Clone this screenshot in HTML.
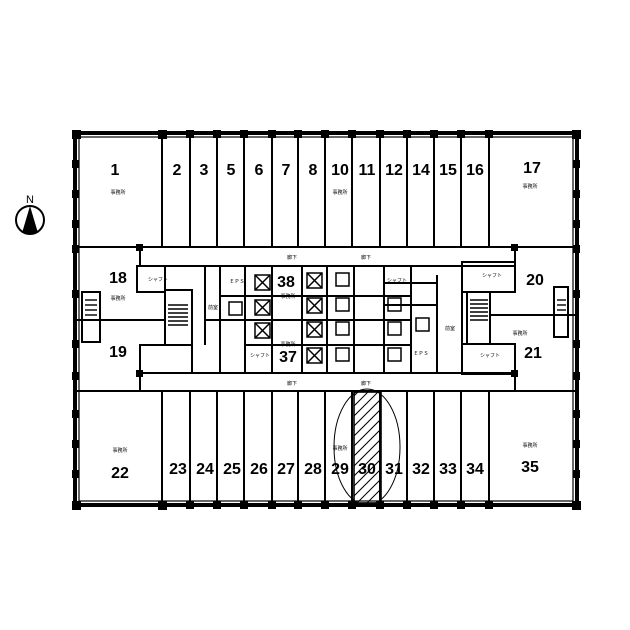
<!DOCTYPE html>
<html><head><style>
html,body{margin:0;padding:0;background:#fff;}
svg{display:block;}
text{font-family:"Liberation Sans",sans-serif;font-weight:bold;fill:#000;}
.n{font-size:16px;text-anchor:middle;}
.s{font-size:5px;text-anchor:middle;font-weight:normal;font-family:"Liberation Sans","Noto Sans CJK JP",sans-serif;}
</style></head><body>
<svg width="630" height="630" viewBox="0 0 630 630" xmlns="http://www.w3.org/2000/svg">
<rect width="630" height="630" fill="#fff"/>
<circle cx="30" cy="220" r="14" fill="none" stroke="#000" stroke-width="2"/>
<polygon points="30,206 22,233 38,233" fill="#000"/>
<text x="30" y="203" style="font-size:11px;font-weight:normal;text-anchor:middle">N</text>
<rect x="75" y="133" width="502" height="372" fill="none" stroke="#000" stroke-width="4"/>
<rect x="79" y="137" width="494" height="364" fill="none" stroke="#000" stroke-width="1.2"/>
<g fill="#000">
<g id="cols">
<rect x="72" y="130" width="9" height="9"/><rect x="158" y="130" width="9" height="9"/><rect x="186" y="130" width="8" height="8"/><rect x="213" y="130" width="8" height="8"/><rect x="240" y="130" width="8" height="8"/><rect x="268" y="130" width="8" height="8"/><rect x="294" y="130" width="8" height="8"/><rect x="321" y="130" width="8" height="8"/><rect x="348" y="130" width="8" height="8"/><rect x="376" y="130" width="8" height="8"/><rect x="403" y="130" width="8" height="8"/><rect x="430" y="130" width="8" height="8"/><rect x="457" y="130" width="8" height="8"/><rect x="485" y="130" width="8" height="8"/><rect x="572" y="130" width="9" height="9"/>
</g>
<use href="#cols" y="371"/>
<rect x="72" y="160" width="7" height="8"/><rect x="72" y="190" width="7" height="8"/><rect x="72" y="220" width="7" height="8"/><rect x="72" y="245" width="7" height="8"/><rect x="72" y="290" width="7" height="8"/><rect x="72" y="340" width="7" height="8"/><rect x="72" y="372" width="7" height="8"/><rect x="72" y="410" width="7" height="8"/><rect x="72" y="440" width="7" height="8"/><rect x="72" y="470" width="7" height="8"/>
<rect x="573" y="160" width="7" height="8"/><rect x="573" y="190" width="7" height="8"/><rect x="573" y="220" width="7" height="8"/><rect x="573" y="245" width="7" height="8"/><rect x="573" y="290" width="7" height="8"/><rect x="573" y="340" width="7" height="8"/><rect x="573" y="372" width="7" height="8"/><rect x="573" y="410" width="7" height="8"/><rect x="573" y="440" width="7" height="8"/><rect x="573" y="470" width="7" height="8"/>
<rect x="136" y="244" width="7" height="7"/><rect x="511" y="244" width="7" height="7"/><rect x="136" y="370" width="7" height="7"/><rect x="511" y="370" width="7" height="7"/>
</g>
<g stroke="#000" stroke-width="2" fill="none">
<line x1="77" y1="247" x2="577" y2="247"/>
<line x1="162" y1="135" x2="162" y2="247"/><line x1="190" y1="135" x2="190" y2="247"/><line x1="217" y1="135" x2="217" y2="247"/><line x1="244" y1="135" x2="244" y2="247"/><line x1="272" y1="135" x2="272" y2="247"/><line x1="298" y1="135" x2="298" y2="247"/><line x1="325" y1="135" x2="325" y2="247"/><line x1="352" y1="135" x2="352" y2="247"/><line x1="380" y1="135" x2="380" y2="247"/><line x1="407" y1="135" x2="407" y2="247"/><line x1="434" y1="135" x2="434" y2="247"/><line x1="461" y1="135" x2="461" y2="247"/><line x1="489" y1="135" x2="489" y2="247"/>
<line x1="77" y1="391" x2="577" y2="391"/>
<line x1="162" y1="391" x2="162" y2="503"/><line x1="190" y1="391" x2="190" y2="503"/><line x1="217" y1="391" x2="217" y2="503"/><line x1="244" y1="391" x2="244" y2="503"/><line x1="272" y1="391" x2="272" y2="503"/><line x1="298" y1="391" x2="298" y2="503"/><line x1="325" y1="391" x2="325" y2="503"/><line x1="352" y1="391" x2="352" y2="503"/><line x1="380" y1="391" x2="380" y2="503"/><line x1="407" y1="391" x2="407" y2="503"/><line x1="434" y1="391" x2="434" y2="503"/><line x1="461" y1="391" x2="461" y2="503"/><line x1="489" y1="391" x2="489" y2="503"/>
<rect x="140" y="247" width="375" height="19"/>
<rect x="140" y="373" width="375" height="18"/>
<line x1="77" y1="320" x2="165" y2="320"/>
<rect x="137" y="266" width="28" height="26"/>
<rect x="165" y="290" width="27" height="55"/>
<rect x="140" y="345" width="52" height="28"/>
<rect x="82" y="292" width="18" height="50"/>
<line x1="490" y1="315" x2="575" y2="315"/>
<rect x="462" y="262" width="53" height="30"/>
<rect x="462" y="344" width="53" height="30"/>
<rect x="467" y="292" width="23" height="52"/>
<rect x="554" y="287" width="14" height="50"/>
<line x1="205" y1="266" x2="205" y2="345"/>
<line x1="220" y1="266" x2="220" y2="373"/>
<line x1="245" y1="266" x2="245" y2="373"/>
<line x1="272" y1="266" x2="272" y2="373"/>
<line x1="302" y1="266" x2="302" y2="373"/>
<line x1="327" y1="266" x2="327" y2="373"/>
<line x1="354" y1="266" x2="354" y2="373"/>
<line x1="384" y1="266" x2="384" y2="373"/>
<line x1="411" y1="266" x2="411" y2="373"/>
<line x1="437" y1="275" x2="437" y2="373"/>
<line x1="462" y1="266" x2="462" y2="373"/>
<line x1="220" y1="296" x2="411" y2="296"/>
<line x1="205" y1="320" x2="411" y2="320"/>
<line x1="245" y1="345" x2="411" y2="345"/>
<line x1="384" y1="283" x2="437" y2="283"/>
<line x1="384" y1="305" x2="437" y2="305"/>
<g stroke-width="1.5">
<rect x="255" y="275" width="15" height="15"/><path d="M255 275L270 290M270 275L255 290"/>
<rect x="255" y="300" width="15" height="15"/><path d="M255 300L270 315M270 300L255 315"/>
<rect x="255" y="323" width="15" height="15"/><path d="M255 323L270 338M270 323L255 338"/>
<rect x="307" y="273" width="15" height="15"/><path d="M307 273L322 288M322 273L307 288"/>
<rect x="307" y="298" width="15" height="15"/><path d="M307 298L322 313M322 298L307 313"/>
<rect x="307" y="322" width="15" height="15"/><path d="M307 322L322 337M322 322L307 337"/>
<rect x="307" y="348" width="15" height="15"/><path d="M307 348L322 363M322 348L307 363"/>
<rect x="336" y="273" width="13" height="13"/><rect x="336" y="298" width="13" height="13"/><rect x="336" y="322" width="13" height="13"/><rect x="336" y="348" width="13" height="13"/>
<rect x="388" y="298" width="13" height="13"/><rect x="388" y="322" width="13" height="13"/><rect x="388" y="348" width="13" height="13"/>
<rect x="416" y="318" width="13" height="13"/><rect x="229" y="302" width="13" height="13"/>
</g>
<ellipse cx="367" cy="447" rx="33" ry="58" stroke-width="1"/>
</g>
<g stroke="#000" stroke-width="1.4">
<line x1="168" y1="305" x2="188" y2="305"/><line x1="168" y1="309" x2="188" y2="309"/><line x1="168" y1="313" x2="188" y2="313"/><line x1="168" y1="317" x2="188" y2="317"/><line x1="168" y1="321" x2="188" y2="321"/><line x1="168" y1="325" x2="188" y2="325"/>
<line x1="470" y1="300" x2="488" y2="300"/><line x1="470" y1="304" x2="488" y2="304"/><line x1="470" y1="308" x2="488" y2="308"/><line x1="470" y1="312" x2="488" y2="312"/><line x1="470" y1="316" x2="488" y2="316"/><line x1="470" y1="320" x2="488" y2="320"/>
<line x1="85" y1="300" x2="97" y2="300"/><line x1="85" y1="305" x2="97" y2="305"/><line x1="85" y1="310" x2="97" y2="310"/><line x1="85" y1="315" x2="97" y2="315"/>
<line x1="557" y1="300" x2="566" y2="300"/><line x1="557" y1="305" x2="566" y2="305"/><line x1="557" y1="310" x2="566" y2="310"/><line x1="557" y1="315" x2="566" y2="315"/>
</g>
<defs><clipPath id="hc"><rect x="354" y="392" width="27" height="111"/></clipPath></defs>
<rect x="354" y="392" width="27" height="111" fill="none" stroke="#000" stroke-width="1.6"/>
<g clip-path="url(#hc)" stroke="#000" stroke-width="1">
<path d="M340 410L390 360M340 420L390 370M340 430L390 380M340 440L390 390M340 450L390 400M340 460L390 410M340 470L390 420M340 480L390 430M340 490L390 440M340 500L390 450M340 510L390 460M340 520L390 470M340 530L390 480M340 540L390 490M340 550L390 500M340 560L390 510M340 570L390 520"/>
</g>
<text class="n" x="115" y="175">1</text><text class="n" x="177" y="175">2</text><text class="n" x="204" y="175">3</text><text class="n" x="231" y="175">5</text><text class="n" x="259" y="175">6</text><text class="n" x="286" y="175">7</text><text class="n" x="313" y="175">8</text><text class="n" x="340" y="175">10</text><text class="n" x="367" y="175">11</text><text class="n" x="394" y="175">12</text><text class="n" x="421" y="175">14</text><text class="n" x="448" y="175">15</text><text class="n" x="475" y="175">16</text><text class="n" x="532" y="173">17</text>
<text class="n" x="118" y="283">18</text><text class="n" x="118" y="357">19</text><text class="n" x="535" y="285">20</text><text class="n" x="533" y="358">21</text>
<text class="n" x="286" y="287">38</text><text class="n" x="288" y="362">37</text>
<text class="n" x="120" y="478">22</text><text class="n" x="178" y="474">23</text><text class="n" x="205" y="474">24</text><text class="n" x="232" y="474">25</text><text class="n" x="259" y="474">26</text><text class="n" x="286" y="474">27</text><text class="n" x="313" y="474">28</text><text class="n" x="340" y="474">29</text><text class="n" x="367" y="474">30</text><text class="n" x="394" y="474">31</text><text class="n" x="421" y="474">32</text><text class="n" x="448" y="474">33</text><text class="n" x="475" y="474">34</text><text class="n" x="530" y="472">35</text>
<text class="s" x="118" y="194">事務所</text><text class="s" x="340" y="194">事務所</text><text class="s" x="530" y="188">事務所</text>
<text class="s" x="118" y="300">事務所</text><text class="s" x="520" y="335">事務所</text>
<text class="s" x="288" y="298">事務所</text><text class="s" x="288" y="346">事務所</text>
<text class="s" x="120" y="452">事務所</text><text class="s" x="340" y="450">事務所</text><text class="s" x="530" y="447">事務所</text>
<text class="s" x="292" y="259">廊下</text><text class="s" x="366" y="259">廊下</text><text class="s" x="292" y="385">廊下</text><text class="s" x="366" y="385">廊下</text>
<text class="s" x="158" y="281">シャフト</text><text class="s" x="492" y="277">シャフト</text><text class="s" x="237" y="283">ＥＰＳ</text><text class="s" x="421" y="355">ＥＰＳ</text>
<text class="s" x="397" y="282">シャフト</text><text class="s" x="260" y="357">シャフト</text><text class="s" x="490" y="357">シャフト</text>
<text class="s" x="213" y="309">前室</text><text class="s" x="450" y="330">前室</text>
</svg>
</body></html>
